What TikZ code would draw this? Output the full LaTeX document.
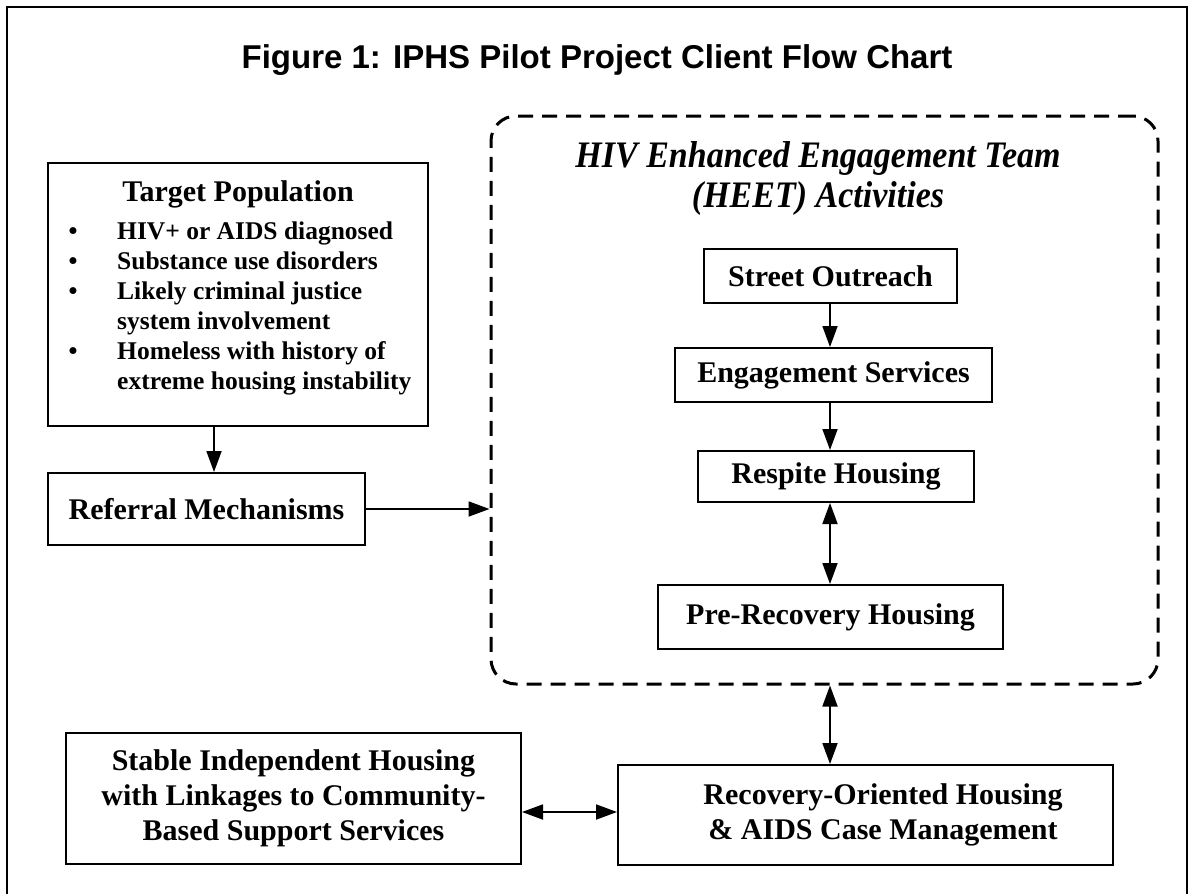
\documentclass[tikz,border=0pt]{standalone}
\usepackage{fontspec}
\setmainfont{Liberation Serif}
\newfontfamily\titlefont{Liberation Sans}
\usetikzlibrary{arrows.meta}
\begin{document}
\begin{tikzpicture}[x=1pt, y=-1pt,
  box/.style={draw, line width=2pt, inner sep=0pt, align=center,
    font=\fontsize{30}{35}\selectfont\bfseries},
  plain/.style={inner sep=0pt, align=center, font=\fontsize{30}{35}\selectfont\bfseries},
  item/.style={inner sep=0pt, anchor=mid west, font=\fontsize{25.5}{30}\selectfont\bfseries},
  dot/.style={inner sep=0pt, anchor=mid, font=\fontsize{25.5}{30}\selectfont\bfseries},
  team/.style={draw, line width=3pt, dash pattern=on 15pt off 9pt, rounded corners=25pt, inner sep=0pt},
  teamtext/.style={inner sep=0pt, anchor=mid, font=\fontsize{34}{40}\selectfont\bfseries\itshape},
  arr/.style={line width=1.8pt, -{Triangle[length=21pt, width=15pt]}},
  darr/.style={line width=1.8pt, {Triangle[length=21pt, width=15pt]}-{Triangle[length=21pt, width=15pt]}},
]
\useasboundingbox (0,0) rectangle (1194,894);
\fill[white] (0,0) rectangle (1194,894);
% page frame
\draw[line width=2pt] (7,900) -- (7,7) -- (1187,7) -- (1187,900);

% heading
\node[inner sep=0pt, font=\titlefont\fontsize{33}{39}\selectfont\bfseries] (title) at (597,60)
  {Figure 1: IPHS Pilot Project Client Flow Chart};

% target population
\node[draw, line width=2pt, minimum width=380pt, minimum height=263pt, inner sep=0pt] (target) at (238,294.5) {};
\node[plain] (tphead) at (238,194) {Target Population};
\node[dot] (d1) at (73,237) {\textbullet};
\node[item] (t1) at (117,237) {HIV+ or AIDS diagnosed};
\node[dot] (d2) at (73,267) {\textbullet};
\node[item] (t2) at (117,267) {Substance use disorders};
\node[dot] (d3) at (73,297) {\textbullet};
\node[item] (t3) at (117,297) {Likely criminal justice};
\node[item] (t3b) at (117,327) {system involvement};
\node[dot] (d4) at (73,357) {\textbullet};
\node[item] (t4) at (117,357) {Homeless with history of};
\node[item] (t4b) at (117,387) {extreme housing instability};

\node[box, minimum width=317pt, minimum height=72pt] (ref) at (206.5,509) {Referral Mechanisms};

% HEET activities
\node[team, minimum width=667pt, minimum height=568pt] (heet) at (824.5,400) {};
\node[teamtext] (h1) at (818,165) {\scalebox{1}[1.1]{HIV Enhanced Engagement Team}};
\node[teamtext] (h2) at (818,205) {\scalebox{1}[1.1]{(HEET) Activities}};

\node[box, minimum width=253pt, minimum height=54pt] (street) at (830.5,276) {Street Outreach};
\node[box, minimum width=317pt, minimum height=54pt] (eng) at (833.5,375) {Engagement Services};
\node[box, minimum width=276pt, minimum height=51pt] (resp) at (836,476.5) {Respite Housing};
\node[box, minimum width=345pt, minimum height=64pt] (pre) at (830.5,617) {Pre-Recovery Housing};

% lower row
\node[box, minimum width=455pt, minimum height=131pt] (stable) at (293.5,798.5)
  {Stable Independent Housing\\with Linkages to Community-\\Based Support Services};
\node[draw, line width=2pt, minimum width=495pt, minimum height=100pt, inner sep=0pt] (rec) at (865.5,815) {};
\node[plain] (reclabel) at (883,815) {Recovery-Oriented Housing\\\& AIDS Case Management};

% connectors
\coordinate (ax) at (830,0);
\coordinate (bx) at (214,0);
\coordinate (ay) at (0,812);
\draw[arr] (target.south -| bx) -- (ref.north -| bx);
\draw[arr] (ref.east) -- (ref.east -| heet.west);
\draw[arr] (street.south -| ax) -- (eng.north -| ax);
\draw[arr] (eng.south -| ax) -- (resp.north -| ax);
\draw[darr] (resp.south -| ax) -- (pre.north -| ax);
\draw[darr] (heet.south -| ax) -- (rec.north -| ax);
\draw[darr] (stable.east |- ay) -- (rec.west |- ay);
\end{tikzpicture}
\end{document}
